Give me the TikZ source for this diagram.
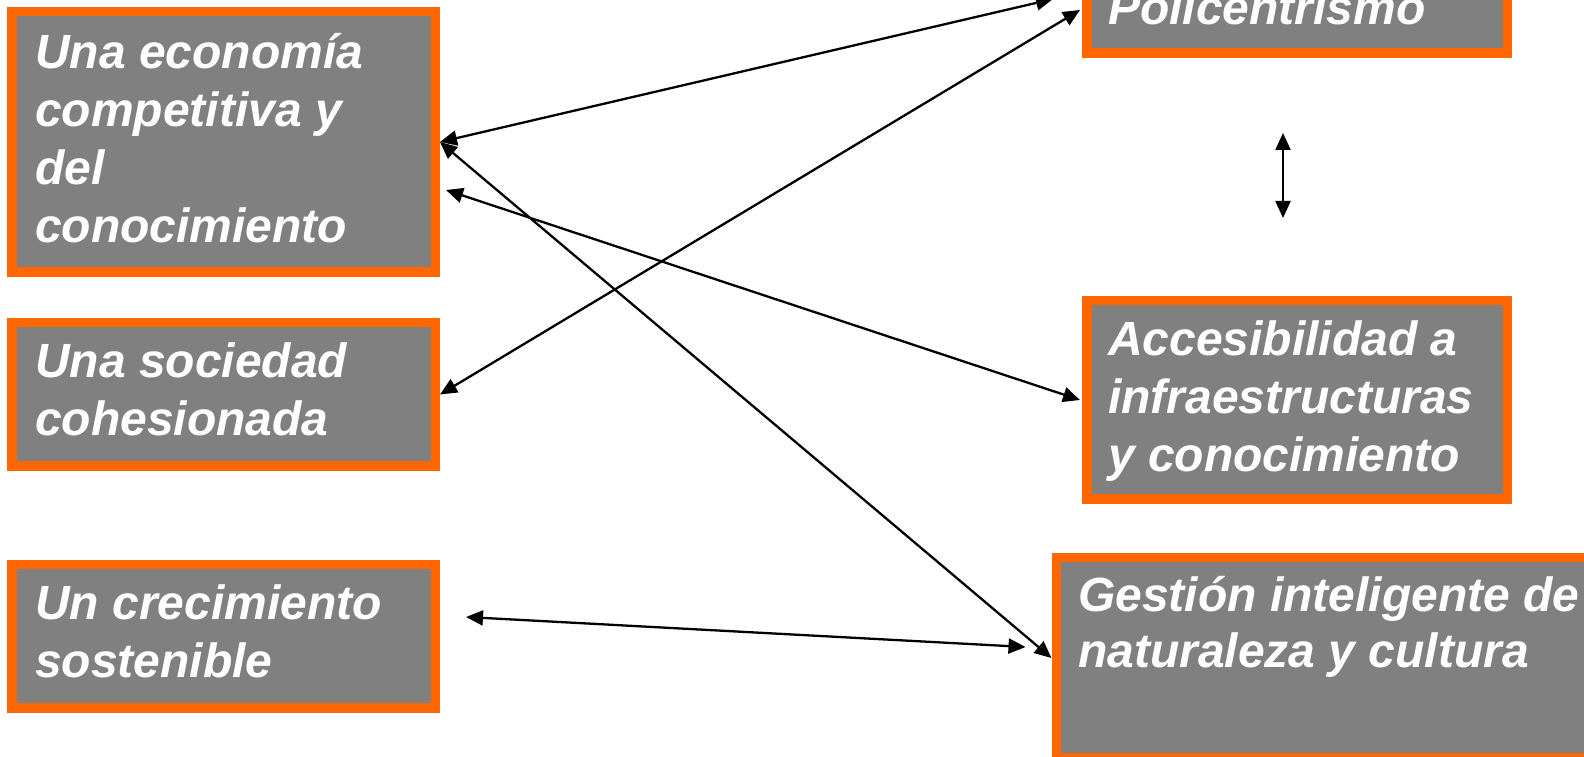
\documentclass[tikz,border=0pt]{standalone}
\usepackage{fontspec}
\setmainfont{Liberation Sans}
\usetikzlibrary{arrows.meta}
\definecolor{boxgray}{HTML}{808080}
\definecolor{boxorange}{HTML}{FF6600}
\tikzset{
  box/.style={draw=boxorange, fill=boxgray, line width=9.5pt, rectangle, inner sep=0pt},
  lbl/.style={anchor=base west, inner sep=0pt, text=white, font=\fontsize{48}{58}\selectfont\bfseries\itshape},
  lblsmall/.style={lbl, font=\fontsize{48}{56}\selectfont\bfseries\itshape},
  link/.style={line width=2.3pt, {Triangle[length=17pt,width=15pt]}-{Triangle[length=17pt,width=15pt]}}
}
\begin{document}
\begin{tikzpicture}[x=1pt,y=1pt]
\clip (0,0) rectangle (1584,757);
% boxes
\node[box, minimum width=423.5pt, minimum height=260.5pt] (eco) at (223.5,615) {};
\node[box, minimum width=423.5pt, minimum height=143.5pt] (soc) at (223.5,362.5) {};
\node[box, minimum width=423.5pt, minimum height=143.5pt] (cre) at (223.5,120.5) {};
\node[box, minimum width=420.5pt, minimum height=83.5pt] (pol) at (1297,745.5) {};
\node[box, minimum width=420.5pt, minimum height=198.5pt] (acc) at (1297,357) {};
\node[box, minimum width=559.5pt, minimum height=200.5pt] (ges) at (1336,99) {};
% texts
\node[lbl] (ecoT) at (35,688) {\parbox[t]{500pt}{Una economía\\competitiva y\\del\\conocimiento}};
\node[lbl] (socT) at (35,379) {\parbox[t]{500pt}{Una sociedad\\cohesionada}};
\node[lbl] (creT) at (35,137) {\parbox[t]{500pt}{Un crecimiento\\sostenible}};
\node[lbl] (polT) at (1108,732) {\parbox[t]{500pt}{Policentrismo}};
\node[lbl] (accT) at (1108,401) {\parbox[t]{500pt}{Accesibilidad a\\infraestructuras\\y conocimiento}};
\node[lblsmall] (gesT) at (1078,145) {\parbox[t]{600pt}{Gestión inteligente de\\naturaleza y cultura}};
% connectors
\draw[link] (eco.east) -- ([shift={(-29,12.5)}]pol.west);
\draw[link] (soc.east) -- ([shift={(-2,1.5)}]pol.west);
\draw[link] (eco.east) -- (ges.west);
\draw[link] ([shift={(6,-48)}]eco.east) -- ([xshift=-2pt]acc.west);
\draw[link] ([shift={(26,19.5)}]cre.east) -- ([shift={(-26,11)}]ges.west);
\draw[link] ([shift={(-14,-75)}]pol.south) -- ([shift={(-14,78)}]acc.north);
\end{tikzpicture}
\end{document}
